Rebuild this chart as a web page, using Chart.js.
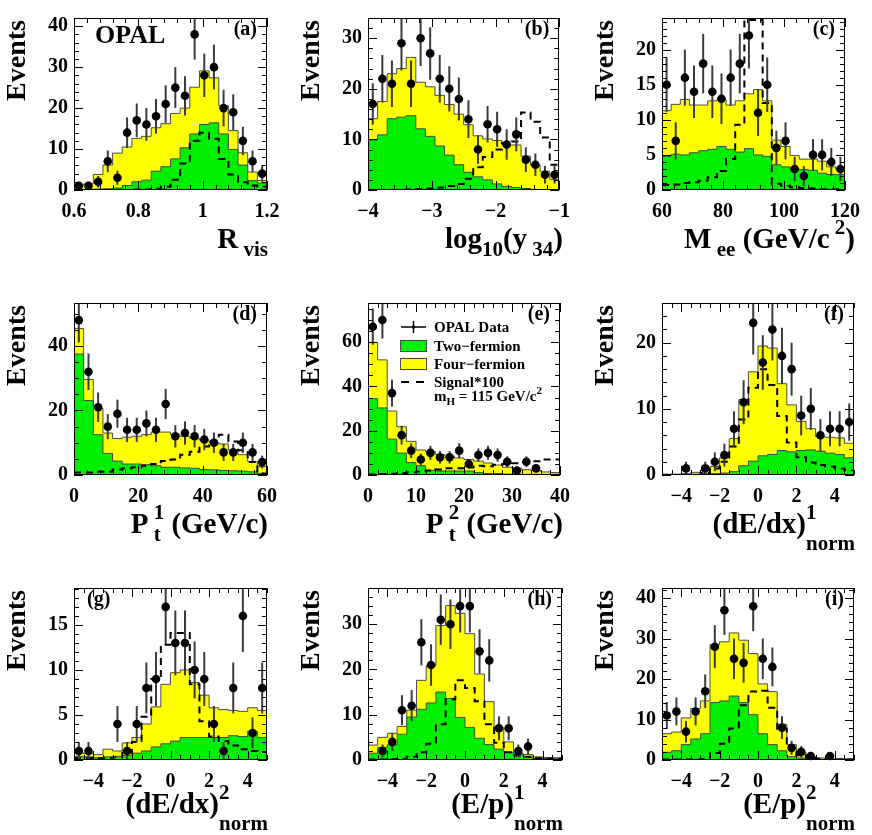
<!DOCTYPE html>
<html>
<head>
<meta charset="utf-8">
<title>OPAL selection variables</title>
<script src="https://cdn.jsdelivr.net/npm/chart.js@4.4.1/dist/chart.umd.min.js"></script>
<style>
  html, body { margin: 0; padding: 0; background: #fff; overflow: hidden; }
  canvas { position: absolute; }
</style>
</head>
<body>
<canvas id="pa"></canvas><canvas id="pb"></canvas><canvas id="pc"></canvas>
<canvas id="pd"></canvas><canvas id="pe"></canvas><canvas id="pf"></canvas>
<canvas id="pg"></canvas><canvas id="ph"></canvas><canvas id="pi"></canvas>
<script>
// 20 bins per panel: data counts, two-fermion, two+four-fermion stack top, signal*100
const aData = [1,1,2,7,3,14,17,16,18,21,25,23,38,28,30,20,19,12,7,4];
const aTwo  = [0.1,0.1,0.2,0.3,0.5,1.1,2.0,2.4,4.6,5.7,7.6,10.3,13.7,16.0,16.4,13.7,9.9,6.1,2.3,1.7];
const aSum  = [1.1,1.5,3.8,6.1,9.0,10.5,12.6,13.1,15.2,16.2,18.7,20.0,25.1,29.1,27.4,20.6,14.5,9.1,4.4,2.3];
const aSig  = [0,0,0,0,0,0,0.1,0.1,0.3,0.8,2.5,6.5,12,14,12.5,7.6,3.8,1.9,1.1,0.8];

const bData = [17,22,21,29,21,30,27,22,20,18,14,8,13,12,9,11,6,5,3,3];
const bTwo  = [9.9,10.9,14.1,14.4,14.7,12.1,10.6,8.7,6.9,5.0,3.5,2.6,2.0,1.2,0.7,0.5,0.3,0.1,0.1,0.1];
const bSum  = [14.1,17.5,23.0,24.0,26.2,21.3,20.4,18.7,16.9,15.0,12.9,10.7,10.1,9.8,8.9,8.9,6.7,4.9,3.7,2.1];
const bSig  = [0,0,0,0,0.1,0.2,0.3,0.5,0.8,1.2,2.2,4.5,6.5,8,9.3,9.6,15.3,13.5,10.4,5];

const cData = [15,7,16,14,18,14,13,16,18,22,11,15,6,7,3,2,5,5,4,3];
const cTwo  = [4.8,5.1,5.0,5.3,5.6,5.8,6.2,5.8,5.4,5.9,5.0,4.8,3.6,3.3,3.0,2.9,2.8,2.4,2.2,2.2];
const cSum  = [11.3,12.2,12.9,12.1,12.1,12.7,12.9,12.1,12.7,13.7,14.3,12.7,7.1,6.2,4.9,4.4,4.4,4.1,3.3,2.9];
const cSig  = [0.7,0.8,1.0,1.1,1.3,1.8,2.7,4.4,9.3,24.2,24.2,12.4,0.9,0.6,0.4,0.3,0.2,0.1,0.1,0.1];

const dData = [48,32,21,15,19,14,14,16,14,22,12,13,12,11,10,7,7,10,7,4];
const dTwo  = [37.5,23.1,12.5,6.7,4.3,3.4,3.4,3.2,2.9,2.4,2.4,2.2,2.1,1.7,1.6,1.4,1.3,1.2,1.0,0.5];
const dSum  = [45.4,29.6,20.7,13.0,11.3,11.7,12.0,12.5,13.3,13.3,12.5,12.0,11.3,10.8,10.1,9.6,7.7,6.3,4.2,2.6];
const dSig  = [0.8,0.8,1.0,1.0,1.7,2.1,2.4,2.9,3.4,4.3,4.8,6.3,7.2,8.8,10.6,12.5,10.4,7.7,4.0,0.5];

const eData = [67,70,37,18,11,7,10,8,8,11,5,9,10,9,6,2,6,3,0,0];
const eTwo  = [34.5,30.3,16.2,9.9,5.6,4.2,2.1,1.8,1.8,1.8,1.8,1.1,0.7,0.7,0.4,0.3,0.3,0.3,0.3,0.3];
const eSum  = [59.9,52,28.9,21.8,15.2,11.3,10.6,9.2,8.5,7.7,7.0,6.3,5.4,4.5,3.5,3.1,2.4,2.0,1.4,1.1];
const eSig  = [0.2,0.4,0.6,0.9,1.2,1.6,2.0,2.5,3.1,3.0,3.4,4.2,4.0,4.6,5.0,5.3,5.9,6.2,7.0,7.0];

const fData = [0,0,1,0,1,2,3,7,11,23,17,22,18,16,9,10,6,7,7,8];
const fTwo  = [0.1,0.1,0.1,0.1,0.2,0.2,0.3,0.5,1.4,2.1,2.9,3.1,3.7,3.5,3.7,3.8,3.6,3.3,3.1,2.6];
const fSum  = [0.1,0.1,0.2,0.4,0.7,1.3,2.6,5.5,11.4,15.6,19.5,19.2,13.8,10.6,8.1,7.0,5.8,5.7,5.6,4.8];
const fSig  = [0,0,0,0,0.3,1.0,2.0,4.3,8.4,13.2,16.0,13.6,8.9,4.9,2.7,1.9,1.5,1.3,1.0,0.7];

const gData = [1,1,0,0,4,1,4,8,9,17,13,13,10,9,4,1,8,16,3,8];
const gTwo  = [0.4,0.35,0.25,0.35,0.4,0.5,0.76,1.0,1.45,1.8,2.1,2.5,2.5,2.5,2.5,2.5,2.7,2.6,3.2,2.5];
const gSum  = [0.8,0.7,0.6,1.2,1.0,1.9,2.5,4.0,5.9,8.4,9.7,10.0,8.6,7.2,5.8,5.6,5.5,5.4,5.8,5.5];
const gSig  = [0.2,0.2,0.2,0.2,0.3,0.8,2.0,4.8,9.0,12.8,14.1,14.1,8.4,4.3,2.6,2.1,1.6,1.2,1.0,0.9];

const hData = [0,2,4,11,12,26,21,31,30,34,34,24,22,7,7,2,3,0,0,0];
const hTwo  = [1.5,2.8,3.4,5.7,9.5,11.2,12.6,15.0,13.6,9.4,7.2,4.8,3.4,2.4,1.7,1.2,0.7,0.35,0.35,0.35];
const hSum  = [3.3,5.0,5.9,7.4,11.0,17.6,20.8,29.7,34.1,32.4,27.9,19.0,12.9,7.2,4.0,1.5,1.2,0.7,0.55,0.5];
const hSig  = [0.1,0.1,0.2,0.3,0.7,1.7,3.6,7.9,13.4,17.6,15.9,13.0,7.9,3.8,1.7,1.0,0.7,0.4,0.3,0.3];

const iData = [11,12,7,12,17,28,37,25,24,38,25,23,8,3,2,1,0,1,0,0];
const iTwo  = [1.9,2.3,3.8,5.2,6.5,14.2,14.6,15.8,14.2,11.2,6.5,3.8,2.3,0.8,0.5,0.3,0.15,0.15,0.15,0.15];
const iSum  = [6.5,6.9,10.4,12.7,14.6,28.5,29.2,31.4,29.6,26.3,18.8,16.9,8.8,3.8,1.9,0.8,0.5,0.3,0.3,0.3];
const iSig  = [0.1,0.1,0.1,0.1,0.2,1.7,4.0,7.8,13.5,16.9,17.1,12.9,7.7,3.1,1.2,0.5,0.3,0.2,0.1,0.1];

// tick labels
const ticksRvis = [0.6, 0.8, 1, 1.2];
const ticksLogY = [-4, -3, -2, -1];
const ticksMee  = [60, 80, 100, 120];
const ticksPt1  = [0, 20, 40, 60];
const ticksPt2  = [0, 10, 20, 30, 40];
const ticksNorm = [-4, -2, 0, 2, 4];

const SERIF = "'Liberation Serif', 'Times New Roman', serif";
const GREEN = '#00ee00', YELLOW = '#ffff00', EDGE = '#4a4a4a';
const colLeft = [0, 290, 580], frameL = [74, 368, 662], frameR = [267, 562, 854];
const rowTop = [0, 285, 570], rowH = [285, 285, 265], titleBase = [248, 248, 243];

const panels = [
  {id: 'pa', tag: '(a)', col: 0, row: 0, xMin: 0.6, xMax: 1.2, xTicks: ticksRvis, xMinor: 0.04,
   yMax: 42, yTicks: [0, 10, 20, 30, 40], yMinor: 2, data: aData, two: aTwo, sum: aSum, sig: aSig,
   title: [{t: 'R'}, {sub: ' vis'}]},
  {id: 'pb', tag: '(b)', col: 1, row: 0, xMin: -4, xMax: -1, xTicks: ticksLogY, xMinor: 0.2,
   yMax: 34, yTicks: [0, 10, 20, 30], yMinor: 2, data: bData, two: bTwo, sum: bSum, sig: bSig,
   title: [{t: 'log'}, {sub: '10'}, {t: '(y'}, {sub: ' 34'}, {t: ')'}]},
  {id: 'pc', tag: '(c)', col: 2, row: 0, xMin: 60, xMax: 120, xTicks: ticksMee, xMinor: 4,
   yMax: 24.5, yTicks: [0, 5, 10, 15, 20], yMinor: 1, data: cData, two: cTwo, sum: cSum, sig: cSig,
   title: [{t: 'M'}, {sub: ' ee'}, {t: ' (GeV/c'}, {sup: ' 2'}, {t: ')'}]},
  {id: 'pd', tag: '(d)', col: 0, row: 1, xMin: 0, xMax: 60, xTicks: ticksPt1, xMinor: 4,
   yMax: 53.3, yTicks: [0, 20, 40], yMinor: 5, data: dData, two: dTwo, sum: dSum, sig: dSig,
   title: [{t: 'P'}, {sub: ' t', sup: ' 1'}, {t: ' (GeV/c)'}]},
  {id: 'pe', tag: '(e)', col: 1, row: 1, xMin: 0, xMax: 40, xTicks: ticksPt2, xMinor: 2,
   yMax: 77.7, yTicks: [0, 20, 40, 60], yMinor: 5, data: eData, two: eTwo, sum: eSum, sig: eSig,
   title: [{t: 'P'}, {sub: ' t', sup: ' 2'}, {t: ' (GeV/c)'}], legend: true},
  {id: 'pf', tag: '(f)', col: 2, row: 1, xMin: -5, xMax: 5, xTicks: ticksNorm, xMinor: 0.5,
   yMax: 26, yTicks: [0, 10, 20], yMinor: 2, data: fData, two: fTwo, sum: fSum, sig: fSig,
   title: [{t: '(dE/dx)'}, {sup: '1', sub: 'norm', low: true}]},
  {id: 'pg', tag: '(g)', col: 0, row: 2, xMin: -5, xMax: 5, xTicks: ticksNorm, xMinor: 0.5,
   yMax: 19.1, yTicks: [0, 5, 10, 15], yMinor: 1, data: gData, two: gTwo, sum: gSum, sig: gSig,
   title: [{t: '(dE/dx)'}, {sup: '2', sub: 'norm', low: true}], tagLeft: true},
  {id: 'ph', tag: '(h)', col: 1, row: 2, xMin: -5, xMax: 5, xTicks: ticksNorm, xMinor: 0.5,
   yMax: 38, yTicks: [0, 10, 20, 30], yMinor: 2, data: hData, two: hTwo, sum: hSum, sig: hSig,
   title: [{t: '(E/p)'}, {sup: '1', sub: 'norm', low: true}]},
  {id: 'pi', tag: '(i)', col: 2, row: 2, xMin: -5, xMax: 5, xTicks: ticksNorm, xMinor: 0.5,
   yMax: 42.5, yTicks: [0, 10, 20, 30, 40], yMinor: 2, data: iData, two: iTwo, sum: iSum, sig: iSig,
   title: [{t: '(E/p)'}, {sup: '2', sub: 'norm', low: true}]}
];

function font(sz) { return 'bold ' + sz + 'px ' + SERIF; }
function fmt(v) { return v < 0 ? '\u2212' + Math.abs(v) : String(v); }

// text with sub/superscripts, drawn piece by piece
function drawRich(ctx, parts, x, y, sz, align) {
  const small = Math.round(sz * 0.72);
  const widths = parts.map(p => {
    if (p.t !== undefined) { ctx.font = font(sz); return ctx.measureText(p.t).width; }
    ctx.font = font(small);
    return Math.max(p.sub ? ctx.measureText(p.sub).width : 0, p.sup ? ctx.measureText(p.sup).width : 0);
  });
  let cx = align === 'right' ? x - widths.reduce((s, w) => s + w, 0) : x;
  ctx.textAlign = 'left';
  ctx.textBaseline = 'alphabetic';
  ctx.fillStyle = '#000';
  parts.forEach((p, i) => {
    if (p.t !== undefined) {
      ctx.font = font(sz);
      ctx.fillText(p.t, cx, y);
    } else {
      ctx.font = font(small);
      if (p.sup) ctx.fillText(p.sup, cx, y - sz * 0.5);
      if (p.sub) ctx.fillText(p.sub, cx, y + sz * (p.low ? 0.6 : 0.28));
    }
    cx += widths[i];
  });
}

function drawLegend(ctx) {
  const x0 = 111, x1 = 136, tx = 144;
  ctx.strokeStyle = '#000';
  ctx.lineWidth = 1.5;
  ctx.beginPath();
  ctx.moveTo(x0, 42); ctx.lineTo(x1, 42);
  ctx.moveTo((x0 + x1) / 2, 36); ctx.lineTo((x0 + x1) / 2, 48);
  ctx.stroke();
  ctx.fillStyle = '#000';
  ctx.beginPath(); ctx.arc((x0 + x1) / 2, 42, 1.8, 0, Math.PI * 2); ctx.fill();

  ctx.lineWidth = 1;
  ctx.strokeStyle = EDGE;
  ctx.fillStyle = GREEN;
  ctx.fillRect(110, 55, 27, 12); ctx.strokeRect(110.5, 55.5, 26, 11);
  ctx.fillStyle = YELLOW;
  ctx.fillRect(110, 73, 27, 12); ctx.strokeRect(110.5, 73.5, 26, 11);

  ctx.strokeStyle = '#000';
  ctx.lineWidth = 2;
  ctx.setLineDash([8, 7]);
  ctx.beginPath(); ctx.moveTo(x0, 97); ctx.lineTo(x1, 97); ctx.stroke();
  ctx.setLineDash([]);

  const sz = 15;
  drawRich(ctx, [{t: 'OPAL Data'}], tx, 47, sz);
  drawRich(ctx, [{t: 'Two\u2212fermion'}], tx, 66, sz);
  drawRich(ctx, [{t: 'Four\u2212fermion'}], tx, 84, sz);
  drawRich(ctx, [{t: 'Signal*100'}], tx, 102, sz);
  drawRich(ctx, [{t: 'm'}, {sub: 'H'}, {t: ' = 115 GeV/c'}, {sup: '2'}], tx, 116, sz);
}

function makeChart(p) {
  const cv = document.getElementById(p.id);
  const W = 290, H = rowH[p.row];
  cv.width = W; cv.height = H;
  cv.style.left = colLeft[p.col] + 'px';
  cv.style.top = rowTop[p.row] + 'px';
  const fl = frameL[p.col] - colLeft[p.col];
  const fr = frameR[p.col] - colLeft[p.col];

  const n = p.data.length;
  const w = (p.xMax - p.xMin) / n;
  const edges = [];
  for (let i = 0; i <= n; i++) edges.push(p.xMin + i * w);
  const step = arr => edges.map((x, i) => ({x: x, y: arr[Math.min(i, n - 1)]}));
  const pts = [];
  p.data.forEach((v, i) => { if (v > 0) pts.push({x: p.xMin + (i + 0.5) * w, y: v}); });

  const tickFont = {family: SERIF, weight: 'bold', size: 20};

  const decor = {
    id: 'decor',
    beforeDatasetDraw(chart, args) {
      if (args.index !== 0) return;
      const ctx = chart.ctx, a = chart.chartArea, xs = chart.scales.x, ys = chart.scales.y;
      ctx.save();
      ctx.beginPath(); ctx.rect(a.left, a.top, a.right - a.left, a.bottom - a.top); ctx.clip();
      ctx.strokeStyle = '#3c3c3c';
      ctx.lineWidth = 2;
      pts.forEach(pt => {
        const e = Math.sqrt(pt.y), X = xs.getPixelForValue(pt.x);
        ctx.beginPath();
        ctx.moveTo(X, ys.getPixelForValue(pt.y - e));
        ctx.lineTo(X, ys.getPixelForValue(pt.y + e));
        ctx.stroke();
      });
      ctx.restore();
    },
    afterDraw(chart) {
      const ctx = chart.ctx, a = chart.chartArea, xs = chart.scales.x, ys = chart.scales.y;
      ctx.save();
      ctx.strokeStyle = '#000';
      ctx.lineWidth = 1;
      ctx.strokeRect(Math.round(a.left) + 0.5, Math.round(a.top) + 0.5,
                     Math.round(a.right - a.left) - 1, Math.round(a.bottom - a.top) - 1);
      ctx.beginPath();
      const nx = Math.round((p.xMax - p.xMin) / p.xMinor);
      for (let k = 0; k <= nx; k++) {
        const v = p.xMin + k * p.xMinor;
        const len = p.xTicks.some(t => Math.abs(t - v) < 1e-6) ? 9 : 5;
        const X = Math.round(xs.getPixelForValue(v)) + 0.5;
        ctx.moveTo(X, a.bottom); ctx.lineTo(X, a.bottom - len);
        ctx.moveTo(X, a.top); ctx.lineTo(X, a.top + len);
      }
      const ny = Math.floor(p.yMax / p.yMinor + 1e-6);
      for (let k = 0; k <= ny; k++) {
        const v = k * p.yMinor;
        const len = p.yTicks.some(t => Math.abs(t - v) < 1e-6) ? 9 : 5;
        const Y = Math.round(ys.getPixelForValue(v)) + 0.5;
        ctx.moveTo(a.left, Y); ctx.lineTo(a.left + len, Y);
        ctx.moveTo(a.right, Y); ctx.lineTo(a.right - len, Y);
      }
      ctx.stroke();

      // panel tag
      ctx.font = font(20);
      ctx.fillStyle = '#000';
      ctx.textBaseline = 'alphabetic';
      if (p.tagLeft) { ctx.textAlign = 'left'; ctx.fillText(p.tag, a.left + 13, 35); }
      else { ctx.textAlign = 'right'; ctx.fillText(p.tag, a.right - 10, 35); }
      if (p.id === 'pa') {
        ctx.font = font(26);
        ctx.textAlign = 'left';
        ctx.fillText('OPAL', 95, 43);
      }

      // y title
      ctx.save();
      ctx.translate(fl - 56, a.top + 2);
      ctx.rotate(-Math.PI / 2);
      ctx.font = font(28);
      ctx.textAlign = 'right';
      ctx.textBaseline = 'middle';
      ctx.fillText('Events', 0, 0);
      ctx.restore();

      // x title
      drawRich(ctx, p.title, fr + 1, titleBase[p.row], 29, 'right');

      if (p.legend) drawLegend(ctx);
      ctx.restore();
    }
  };

  return new Chart(cv, {
    type: 'line',
    data: {
      datasets: [
        {type: 'scatter', data: pts, pointRadius: 4.3, pointBackgroundColor: '#000',
         pointBorderWidth: 0, order: 0, clip: false},
        {type: 'line', data: step(p.sig), stepped: true, borderColor: '#000', borderWidth: 2,
         borderDash: [7, 5], pointRadius: 0, fill: false, order: 1},
        {type: 'line', data: step(p.two), stepped: true, borderColor: EDGE, borderWidth: 1,
         backgroundColor: GREEN, pointRadius: 0, fill: 'origin', order: 2},
        {type: 'line', data: step(p.sum), stepped: true, borderColor: EDGE, borderWidth: 1,
         backgroundColor: YELLOW, pointRadius: 0, fill: 'origin', order: 3}
      ]
    },
    options: {
      responsive: false,
      animation: false,
      events: [],
      layout: {padding: {left: 0, top: 6, right: W - fr, bottom: 0}},
      plugins: {legend: {display: false}, tooltip: {enabled: false}},
      scales: {
        x: {
          type: 'linear', min: p.xMin, max: p.xMax,
          grid: {display: false, drawTicks: false}, border: {display: false},
          afterBuildTicks: s => { s.ticks = p.xTicks.map(v => ({value: v})); },
          afterFit: s => { s.height = H - 190; },
          ticks: {autoSkip: false, maxRotation: 0, padding: 10, color: '#000', font: tickFont,
                  callback: v => fmt(v)}
        },
        y: {
          type: 'linear', min: 0, max: p.yMax,
          grid: {display: false, drawTicks: false}, border: {display: false},
          afterBuildTicks: s => { s.ticks = p.yTicks.map(v => ({value: v})); },
          afterFit: s => { s.width = fl; },
          ticks: {autoSkip: false, padding: 6, color: '#000', font: tickFont,
                  callback: v => fmt(v)}
        }
      }
    },
    plugins: [decor]
  });
}

panels.forEach(makeChart);
</script>
</body>
</html>
